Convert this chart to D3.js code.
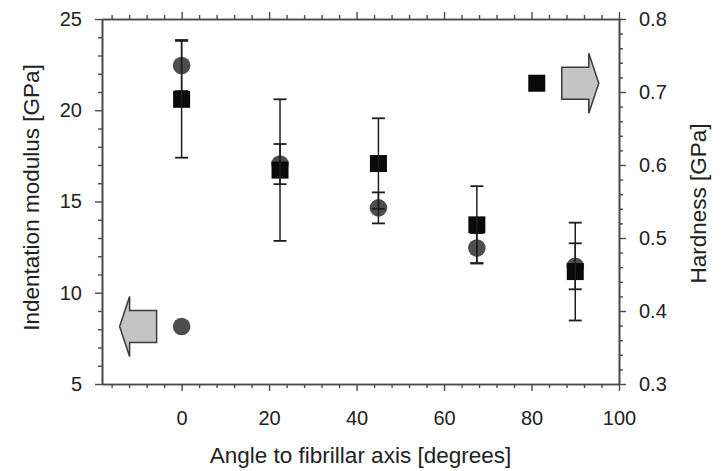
<!DOCTYPE html>
<html>
<head>
<meta charset="utf-8">
<script src="https://cdn.jsdelivr.net/npm/d3@7"></script>
<style>
  body { margin: 0; background: #fff; }
  text { font-family: "Liberation Sans", Arial, sans-serif; fill: #222; }
</style>
</head>
<body>
<svg id="chart" width="723" height="471"></svg>
<script>
// --- data ---
const angles = [0, 22.5, 45, 67.5, 90];
const modulus = [22.45, 17.05, 14.65, 12.45, 11.45];      // GPa, left axis (circles)
const modulusErr = [1.4, 1.1, 0.85, 0.82, 1.26];
const hardness = [0.69, 0.593, 0.602, 0.518, 0.454];     // GPa, right axis (squares)
const hardnessErr = [0.08, 0.097, 0.062, 0.053, 0.067];

// legend markers (data coords)
const legendCircle = { x: 0, y: 8.15 };
const legendSquare = { x: 81.2, y: 0.712 };

const xMajor = [0, 20, 40, 60, 80, 100];
const yLeftMajor = [5, 10, 15, 20, 25];
const yRightMajor = [0.3, 0.4, 0.5, 0.6, 0.7, 0.8];

// --- layout ---
const pLeft = 102, pRight = 619, pTop = 19, pBottom = 384;
const svg = d3.select("#chart");

const x = d3.scaleLinear().domain([-18.2, 100]).range([pLeft, pRight]);
const yL = d3.scaleLinear().domain([5, 25]).range([pBottom, pTop]);
const yR = d3.scaleLinear().domain([0.3, 0.8]).range([pBottom, pTop]);

const xMinor = d3.range(-16, 100, 4).filter(v => v % 20 !== 0);
const yLeftMinor = d3.range(6, 25, 1).filter(v => v % 5 !== 0);
const yRightMinor = d3.range(0.32, 0.8, 0.02).filter(v => Math.abs(Math.round(v * 10) - v * 10) > 0.01);

const axisColor = "#4a4a4a";

function styleAxis(g) {
  g.select(".domain").attr("stroke", axisColor).attr("stroke-width", 1.6);
  g.selectAll(".tick line").attr("stroke", axisColor).attr("stroke-width", 1.4);
  g.selectAll(".tick text").style("font-size", "20px").attr("fill", "#222");
}

// bottom axis
svg.append("g").attr("transform", `translate(0,${pBottom})`)
  .call(d3.axisBottom(x).tickValues(xMinor).tickSize(4).tickFormat("").tickSizeOuter(0))
  .call(styleAxis);
svg.append("g").attr("transform", `translate(0,${pBottom})`)
  .call(d3.axisBottom(x).tickValues(xMajor).tickSize(7).tickPadding(20).tickSizeOuter(0))
  .call(styleAxis);

// top axis (mirror, no labels)
svg.append("g").attr("transform", `translate(0,${pTop})`)
  .call(d3.axisTop(x).tickValues(xMinor).tickSize(4).tickFormat("").tickSizeOuter(0))
  .call(styleAxis);
svg.append("g").attr("transform", `translate(0,${pTop})`)
  .call(d3.axisTop(x).tickValues(xMajor).tickSize(7).tickFormat("").tickSizeOuter(0))
  .call(styleAxis);

// left axis
svg.append("g").attr("transform", `translate(${pLeft},0)`)
  .call(d3.axisLeft(yL).tickValues(yLeftMinor).tickSize(4).tickFormat("").tickSizeOuter(0))
  .call(styleAxis);
svg.append("g").attr("transform", `translate(${pLeft},0)`)
  .call(d3.axisLeft(yL).tickValues(yLeftMajor).tickSize(7).tickPadding(13).tickSizeOuter(0))
  .call(styleAxis);

// right axis
svg.append("g").attr("transform", `translate(${pRight},0)`)
  .call(d3.axisRight(yR).tickValues(yRightMinor).tickSize(4).tickFormat("").tickSizeOuter(0))
  .call(styleAxis);
svg.append("g").attr("transform", `translate(${pRight},0)`)
  .call(d3.axisRight(yR).tickValues(yRightMajor).tickSize(7).tickPadding(13)
    .tickFormat(d3.format(".1f")).tickSizeOuter(0))
  .call(styleAxis);

// axis titles
svg.append("text")
  .attr("x", (pLeft + pRight) / 2).attr("y", 463)
  .attr("text-anchor", "middle")
  .style("font-size", "22.5px")
  .text("Angle to fibrillar axis [degrees]");

svg.append("text")
  .attr("transform", `translate(39,${(pTop + pBottom) / 2 - 4}) rotate(-90)`)
  .attr("text-anchor", "middle")
  .style("font-size", "22.5px")
  .text("Indentation modulus [GPa]");

svg.append("text")
  .attr("transform", `translate(706,${(pTop + pBottom) / 2 + 2}) rotate(-90)`)
  .attr("text-anchor", "middle")
  .style("font-size", "22.5px")
  .text("Hardness [GPa]");

// --- marks ---
const marks = svg.append("g");
const barColor = "#1e1e1e";
const cap = 6.5;

function errorBars(g, xs, ys, es, scale) {
  xs.forEach((a, i) => {
    const cx = x(a), y0 = scale(ys[i] - es[i]), y1 = scale(ys[i] + es[i]);
    g.append("line").attr("x1", cx).attr("x2", cx).attr("y1", y0).attr("y2", y1)
      .attr("stroke", barColor).attr("stroke-width", 1.5);
    [y0, y1].forEach(yy => g.append("line")
      .attr("x1", cx - cap).attr("x2", cx + cap).attr("y1", yy).attr("y2", yy)
      .attr("stroke", barColor).attr("stroke-width", 1.8));
  });
}

// circles (modulus)
marks.selectAll(".mod").data(angles).enter().append("circle")
  .attr("cx", d => x(d)).attr("cy", (d, i) => yL(modulus[i])).attr("r", 8.8)
  .attr("fill", "#4d4d4d");
errorBars(marks.append("g"), angles, modulus, modulusErr, yL);

// squares (hardness)
const sq = 17;
marks.selectAll(".hard").data(angles).enter().append("rect")
  .attr("x", d => x(d) - sq / 2).attr("y", (d, i) => yR(hardness[i]) - sq / 2)
  .attr("width", sq).attr("height", sq).attr("fill", "#0a0a0a");
errorBars(marks.append("g"), angles, hardness, hardnessErr, yR);

// --- legend markers with arrows ---
const lcx = x(legendCircle.x), lcy = yL(legendCircle.y);
marks.append("circle").attr("cx", lcx).attr("cy", lcy).attr("r", 8.8).attr("fill", "#4d4d4d");

const lsx = x(legendSquare.x), lsy = yR(legendSquare.y);
marks.append("rect").attr("x", lsx - sq / 2).attr("y", lsy - sq / 2)
  .attr("width", sq).attr("height", sq).attr("fill", "#0a0a0a");

// block arrow: body from b0 to b1 (offset from marker), head to tip, dir = +1 right / -1 left
function blockArrow(cx, cy, dir) {
  const b0 = 25, b1 = 52, tip = 62, bh = 16, hh = 30;
  const pts = [
    [b0, -bh], [b1, -bh], [b1, -hh], [tip, 0], [b1, hh], [b1, bh], [b0, bh]
  ].map(([dx, dy]) => [cx + dir * dx, cy + dy]);
  marks.append("polygon")
    .attr("points", pts.map(p => p.join(",")).join(" "))
    .attr("fill", "#c4c4c4").attr("stroke", "#3a3a3a").attr("stroke-width", 1.5)
    .attr("stroke-linejoin", "miter");
}
blockArrow(lcx, lcy, -1);
blockArrow(lsx, lsy, 1);
</script>
</body>
</html>
